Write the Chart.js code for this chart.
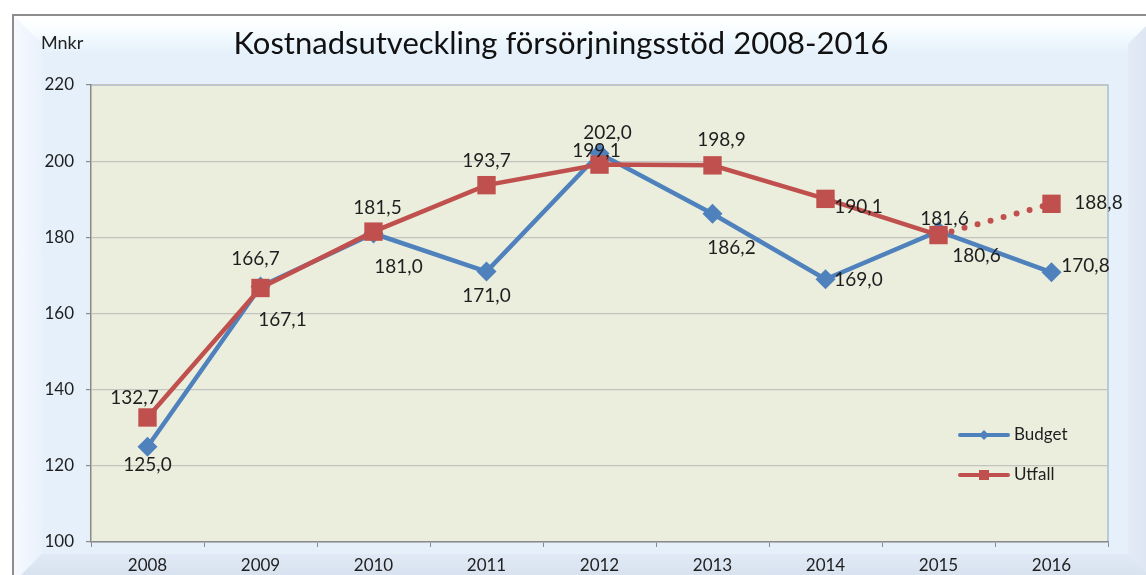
<!DOCTYPE html>
<html>
<head>
<meta charset="utf-8">
<script src="https://cdn.jsdelivr.net/npm/chart.js@4/dist/chart.umd.min.js"></script>
<style>
    html, body { margin: 0; padding: 0; background: #ffffff; overflow: hidden; }
    body { width: 1146px; height: 575px; position: relative; font-family: Lato, "Noto Sans", sans-serif; }
    .frame {
        position: absolute; left: 12px; top: 14px; width: 1142px; height: 566px;
        border-top: 2px solid #8d8d8d; border-left: 2px solid #8d8d8d;
        background: linear-gradient(to bottom, #ffffff 0px, #fbfeff 12px, #eef8fd 24px, #e6f0fb 38px, #e6f0fb 100%);
    }
    .bevel { position: absolute; }
    .bevel-left {
        left: 0; top: 0; width: 28px; height: 566px;
        background: linear-gradient(to right, #f6fafe, #e9f1fb);
        clip-path: polygon(0 0, 28px 28px, 28px 538px, 0 566px);
    }
    .bevel-right {
        right: 0; top: 0; width: 28px; height: 566px;
        background: linear-gradient(to right, #e3ebf6, #d9e3f0);
        clip-path: polygon(0 28px, 28px 0, 28px 566px, 0 538px);
    }
    .bevel-bottom {
        left: 0; bottom: 0; width: 1142px; height: 28px;
        background: linear-gradient(to bottom, #e0e9f5, #d6e0ee);
        clip-path: polygon(28px 0, 1114px 0, 1142px 28px, 0 28px);
    }
    #chart { position: absolute; left: 0; top: 0; z-index: 2; }
    .title {
        position: absolute; left: 561px; top: 42px; transform: translate(-50%, -50%);
        font-size: 31px; color: #111; white-space: nowrap; z-index: 3;
    }
    .unit {
        position: absolute; left: 41px; top: 42px; transform: translateY(-50%);
        font-size: 18px; color: #222; z-index: 3;
    }
</style>
</head>
<body>
<div class="frame">
    <div class="bevel bevel-left"></div>
    <div class="bevel bevel-right"></div>
    <div class="bevel bevel-bottom"></div>
</div>
<div class="title">Kostnadsutveckling försörjningsstöd 2008-2016</div>
<div class="unit">Mnkr</div>
<canvas id="chart" width="1146" height="575"></canvas>
<script>
const years = ["2008", "2009", "2010", "2011", "2012", "2013", "2014", "2015", "2016"];
const budget = [125.0, 167.1, 181.0, 171.0, 202.0, 186.2, 169.0, 181.6, 170.8];
const utfall = [132.7, 166.7, 181.5, 193.7, 199.1, 198.9, 190.1, 180.6, 188.8];
const yMin = 100;
const yMax = 220;
const yStep = 20;

const blue = "#4f81bd";
const red = "#c0504d";
const labelFont = "19px Lato, 'Noto Sans', sans-serif";

// label offsets from each point (dx, dy), placed like the original
const budgetLabelPos = [[0, 18], [22, 33], [25, 33], [0, 24], [8, -21], [19, 34], [33, 1], [6, -12], [34, -6]];
const utfallLabelPos = [[-13, -20], [-5, -29], [4, -24], [0, -24], [-3, -14], [9, -25], [33, 8], [38, 21], [47, -1]];

function fmt(v) {
    return v.toFixed(1).replace(".", ",");
}

const plotBackground = {
    id: "plotBackground",
    beforeDraw(chart) {
        const { ctx, chartArea: a } = chart;
        ctx.save();
        ctx.fillStyle = "#ebeedd";
        ctx.fillRect(a.left, a.top, a.right - a.left, a.bottom - a.top);
        ctx.strokeStyle = "#a9bdd6";
        ctx.lineWidth = 1.5;
        ctx.beginPath();
        ctx.moveTo(a.left, a.top);
        ctx.lineTo(a.right, a.top);
        ctx.lineTo(a.right, a.bottom);
        ctx.stroke();
        ctx.restore();
    },
};

const valueLabels = {
    id: "valueLabels",
    afterDatasetsDraw(chart) {
        const ctx = chart.ctx;
        ctx.save();
        ctx.font = labelFont;
        ctx.fillStyle = "#1e1e1e";
        ctx.textAlign = "center";
        ctx.textBaseline = "middle";
        chart.data.datasets.forEach((ds, i) => {
            const meta = chart.getDatasetMeta(i);
            const pos = ds.label === "Budget" ? budgetLabelPos : utfallLabelPos;
            meta.data.forEach((pt, j) => {
                ctx.fillText(fmt(ds.data[j]), pt.x + pos[j][0], pt.y + pos[j][1]);
            });
        });
        ctx.restore();
    },
};

const lineLegend = {
    id: "lineLegend",
    afterDraw(chart) {
        const ctx = chart.ctx;
        const items = [
            { text: "Budget", color: blue, y: 435, marker: "diamond" },
            { text: "Utfall", color: red, y: 475, marker: "square" },
        ];
        ctx.save();
        ctx.font = "17px Lato, 'Noto Sans', sans-serif";
        ctx.textBaseline = "middle";
        items.forEach((it) => {
            ctx.strokeStyle = it.color;
            ctx.fillStyle = it.color;
            ctx.lineWidth = 4;
            ctx.lineCap = "round";
            ctx.beginPath();
            ctx.moveTo(960, it.y);
            ctx.lineTo(1008, it.y);
            ctx.stroke();
            if (it.marker === "diamond") {
                ctx.beginPath();
                ctx.moveTo(984, it.y - 5);
                ctx.lineTo(989, it.y);
                ctx.lineTo(984, it.y + 5);
                ctx.lineTo(979, it.y);
                ctx.closePath();
                ctx.fill();
            } else {
                ctx.fillRect(979, it.y - 5, 10, 10);
            }
            ctx.fillStyle = "#1e1e1e";
            ctx.fillText(it.text, 1014, it.y);
        });
        ctx.restore();
    },
};

new Chart(document.getElementById("chart").getContext("2d"), {
    type: "line",
    data: {
        labels: years,
        datasets: [
            {
                label: "Budget",
                data: budget,
                borderColor: blue,
                backgroundColor: blue,
                borderWidth: 4.5,
                pointStyle: "rectRot",
                pointRadius: 10,
                pointBorderWidth: 0,
                pointBackgroundColor: blue,
                tension: 0,
                order: 1,
            },
            {
                label: "Utfall",
                data: utfall,
                borderColor: red,
                backgroundColor: red,
                borderWidth: 4.5,
                borderCapStyle: "round",
                pointStyle: "rect",
                pointRadius: 13,
                pointBorderWidth: 0,
                pointBackgroundColor: red,
                tension: 0,
                order: 0,
                segment: {
                    // last year is a forecast: dotted
                    borderDash: (c) => (c.p1DataIndex === years.length - 1 ? [0, 13.5] : undefined),
                    borderWidth: (c) => (c.p1DataIndex === years.length - 1 ? 6 : undefined),
                },
            },
        ],
    },
    options: {
        responsive: false,
        animation: false,
        events: [],
        layout: { padding: { left: 0, top: 85, right: 38, bottom: 0 } },
        plugins: {
            legend: { display: false },
            title: { display: false },
            tooltip: { enabled: false },
        },
        scales: {
            x: {
                offset: true,
                afterFit: (s) => { s.height = 33; },
                grid: { offset: true, drawOnChartArea: false, drawTicks: true, tickLength: 5, color: "#8a8a8a" },
                border: { color: "#8a8a8a", width: 1.5 },
                ticks: { color: "#1e1e1e", padding: 8, font: { family: "Lato", size: 17 } },
            },
            y: {
                min: yMin,
                max: yMax,
                afterFit: (s) => { s.width = 91; },
                grid: { color: "#c3c3c0", lineWidth: 1.2, tickLength: 5, tickColor: "#8a8a8a" },
                border: { color: "#8a8a8a", width: 1.5 },
                ticks: { stepSize: yStep, color: "#1e1e1e", padding: 12, font: { family: "Lato", size: 17 } },
            },
        },
    },
    plugins: [plotBackground, valueLabels, lineLegend],
});
</script>
</body>
</html>
